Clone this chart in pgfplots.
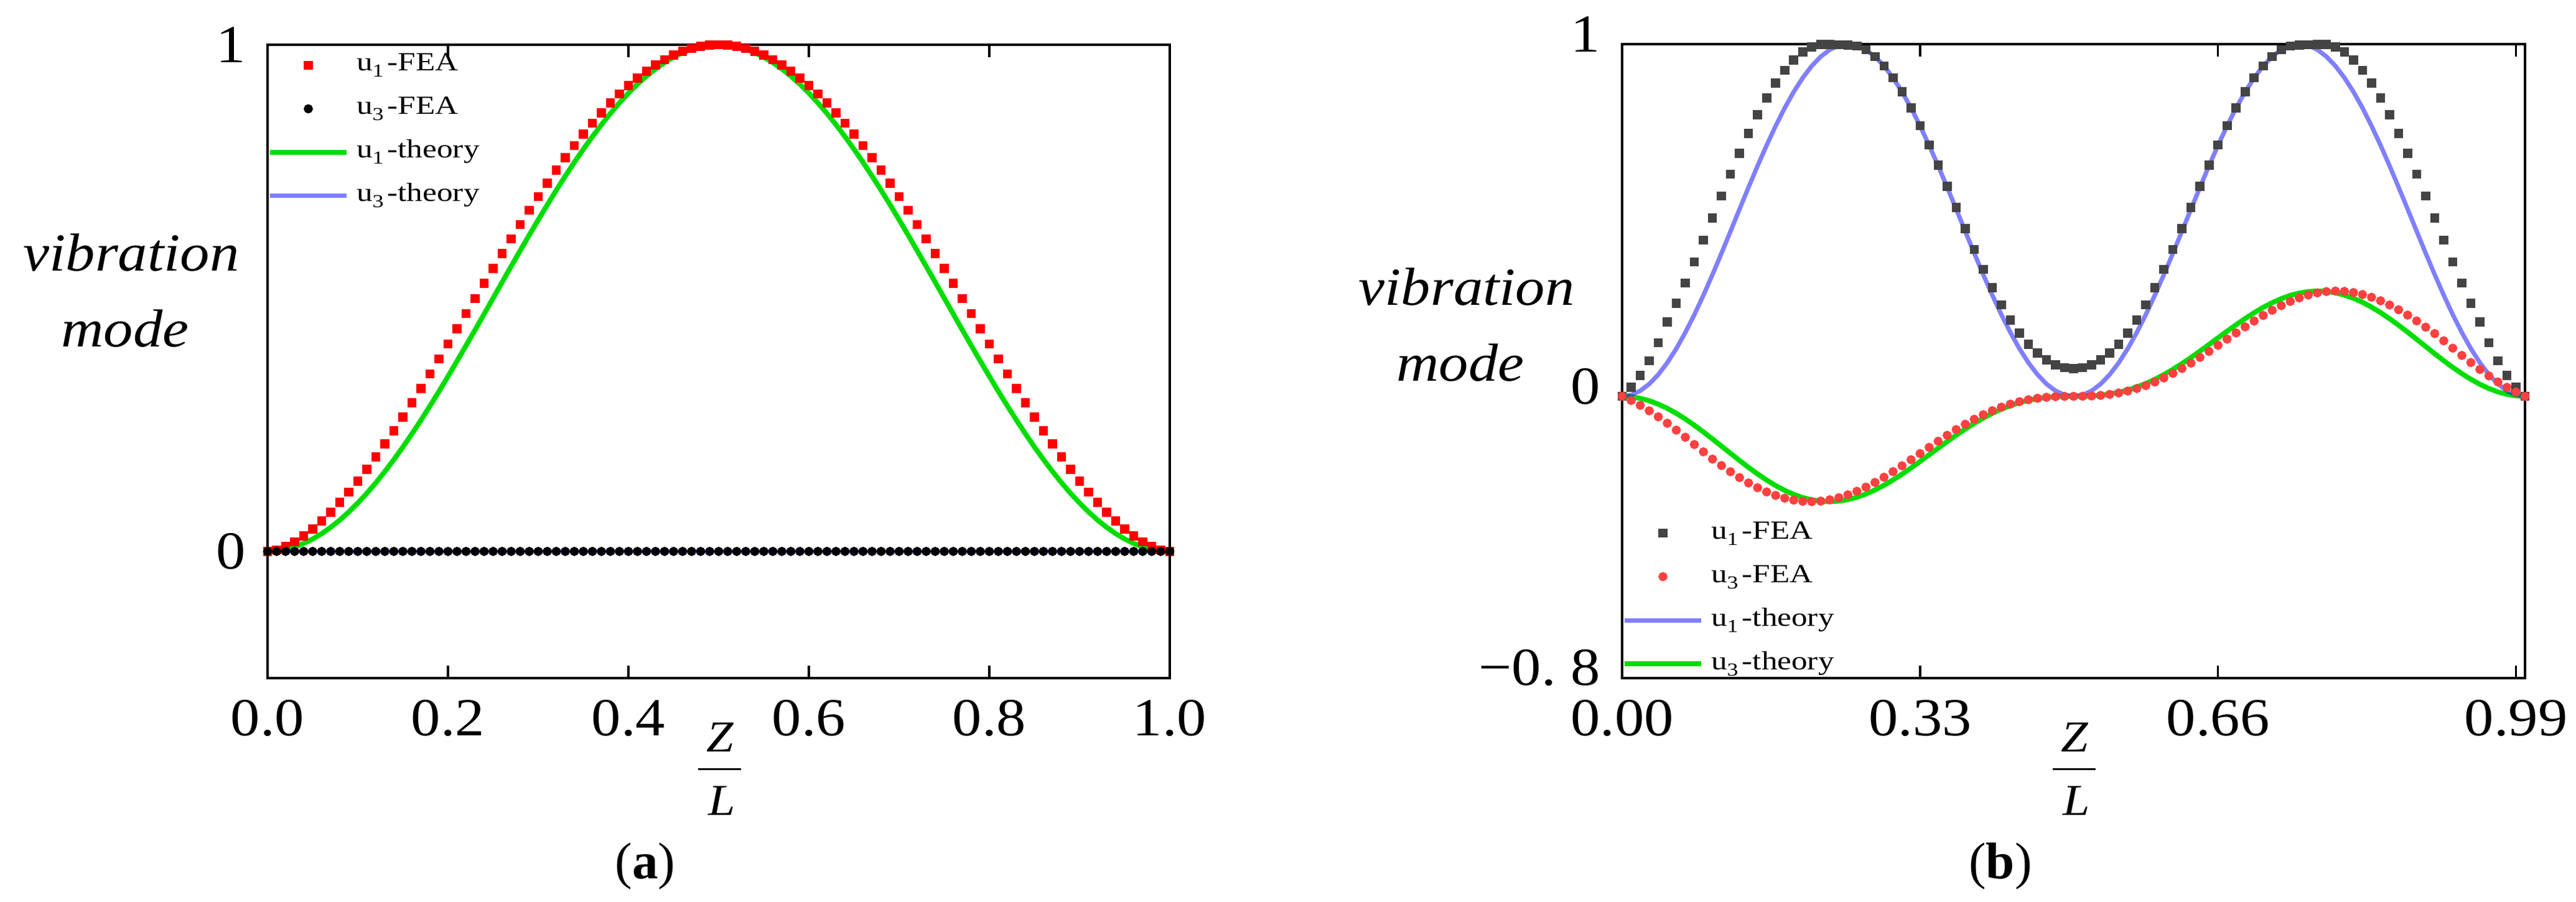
\documentclass[border=0pt]{standalone}
\usepackage{pgfplots}
\pgfplotsset{compat=1.18}
\usepackage{pgfplotstable}
\usepackage{graphicx}
\usepackage{fontspec}
\setmainfont{Liberation Serif}

\definecolor{redA}{RGB}{255,0,0}
\definecolor{greenT}{RGB}{0,221,0}
\definecolor{blueT}{RGB}{0,0,255}
\definecolor{grayF}{RGB}{68,68,68}
\definecolor{redF}{RGB}{255,64,64}

\newcommand{\sx}[1]{\scalebox{1.1}[1]{#1}}
\newcommand{\sleg}[1]{\scalebox{1.22}[1]{#1}}
\newcommand{\tf}{\fontsize{8.6}{10}\selectfont}
\newcommand{\lf}{\fontsize{4.2}{5}\selectfont}
\newcommand{\af}{\fontsize{8.6}{10}\selectfont\itshape}
\newcommand{\zf}{\fontsize{7.1}{8}\selectfont\itshape}
\newcommand{\cf}{\fontsize{8.3}{10}\selectfont}

\pgfplotsset{myimg/.style={legend image code/.code={\draw[mark repeat=2,mark phase=2,##1] plot coordinates {(0pt,0pt) (6.15pt,0pt) (12.3pt,0pt)};}}}

% left panel: x, u1-FEA, u3-FEA, u1-theory
\pgfplotstableread{
x f1 f3 t1
0.00 0.0000 0 0.0000
0.01 0.0030 0 0.0010
0.02 0.0096 0 0.0039
0.03 0.0189 0 0.0089
0.04 0.0305 0 0.0157
0.05 0.0443 0 0.0245
0.06 0.0600 0 0.0351
0.07 0.0775 0 0.0476
0.08 0.0966 0 0.0618
0.09 0.1171 0 0.0778
0.10 0.1390 0 0.0955
0.11 0.1623 0 0.1147
0.12 0.1866 0 0.1355
0.13 0.2120 0 0.1577
0.14 0.2383 0 0.1813
0.15 0.2654 0 0.2061
0.16 0.2932 0 0.2321
0.17 0.3216 0 0.2591
0.18 0.3506 0 0.2871
0.19 0.3799 0 0.3159
0.20 0.4095 0 0.3455
0.21 0.4394 0 0.3757
0.22 0.4693 0 0.4063
0.23 0.4992 0 0.4373
0.24 0.5290 0 0.4686
0.25 0.5586 0 0.5000
0.26 0.5880 0 0.5314
0.27 0.6169 0 0.5627
0.28 0.6453 0 0.5937
0.29 0.6733 0 0.6243
0.30 0.7004 0 0.6545
0.31 0.7269 0 0.6841
0.32 0.7526 0 0.7129
0.33 0.7773 0 0.7409
0.34 0.8011 0 0.7679
0.35 0.8237 0 0.7939
0.36 0.8454 0 0.8187
0.37 0.8657 0 0.8423
0.38 0.8849 0 0.8645
0.39 0.9028 0 0.8853
0.40 0.9192 0 0.9045
0.41 0.9342 0 0.9222
0.42 0.9478 0 0.9382
0.43 0.9599 0 0.9524
0.44 0.9704 0 0.9649
0.45 0.9794 0 0.9755
0.46 0.9868 0 0.9843
0.47 0.9925 0 0.9911
0.48 0.9967 0 0.9961
0.49 0.9992 0 0.9990
0.50 1.0000 0 1.0000
0.51 0.9992 0 0.9990
0.52 0.9967 0 0.9961
0.53 0.9925 0 0.9911
0.54 0.9868 0 0.9843
0.55 0.9794 0 0.9755
0.56 0.9704 0 0.9649
0.57 0.9599 0 0.9524
0.58 0.9478 0 0.9382
0.59 0.9342 0 0.9222
0.60 0.9192 0 0.9045
0.61 0.9028 0 0.8853
0.62 0.8849 0 0.8645
0.63 0.8657 0 0.8423
0.64 0.8454 0 0.8187
0.65 0.8237 0 0.7939
0.66 0.8011 0 0.7679
0.67 0.7773 0 0.7409
0.68 0.7526 0 0.7129
0.69 0.7269 0 0.6841
0.70 0.7004 0 0.6545
0.71 0.6733 0 0.6243
0.72 0.6453 0 0.5937
0.73 0.6169 0 0.5627
0.74 0.5880 0 0.5314
0.75 0.5586 0 0.5000
0.76 0.5290 0 0.4686
0.77 0.4992 0 0.4373
0.78 0.4693 0 0.4063
0.79 0.4394 0 0.3757
0.80 0.4095 0 0.3455
0.81 0.3799 0 0.3159
0.82 0.3506 0 0.2871
0.83 0.3216 0 0.2591
0.84 0.2932 0 0.2321
0.85 0.2654 0 0.2061
0.86 0.2383 0 0.1813
0.87 0.2120 0 0.1577
0.88 0.1866 0 0.1355
0.89 0.1623 0 0.1147
0.90 0.1390 0 0.0955
0.91 0.1171 0 0.0778
0.92 0.0966 0 0.0618
0.93 0.0775 0 0.0476
0.94 0.0600 0 0.0351
0.95 0.0443 0 0.0245
0.96 0.0305 0 0.0157
0.97 0.0189 0 0.0089
0.98 0.0096 0 0.0039
0.99 0.0030 0 0.0010
1.00 0.0000 0 0.0000
}\tabA

% right panel: x, u1-FEA, u3-FEA, u1-theory, u3-theory
\pgfplotstableread{
x f1 f3 t1 t3
0.00 0.0000 0.0000 0.0000 0.0000
0.01 0.0260 -0.0119 0.0039 -0.0014
0.02 0.0590 -0.0256 0.0157 -0.0057
0.03 0.1010 -0.0410 0.0351 -0.0126
0.04 0.1520 -0.0581 0.0618 -0.0222
0.05 0.2112 -0.0764 0.0955 -0.0342
0.06 0.2646 -0.0959 0.1355 -0.0484
0.07 0.3217 -0.1161 0.1813 -0.0645
0.08 0.3818 -0.1368 0.2321 -0.0822
0.09 0.4437 -0.1576 0.2871 -0.1012
0.10 0.5063 -0.1782 0.3455 -0.1210
0.11 0.5688 -0.1965 0.4063 -0.1414
0.12 0.6305 -0.2141 0.4686 -0.1619
0.13 0.6899 -0.2307 0.5314 -0.1822
0.14 0.7463 -0.2459 0.5937 -0.2019
0.15 0.7990 -0.2595 0.6545 -0.2205
0.16 0.8468 -0.2714 0.7129 -0.2378
0.17 0.8892 -0.2813 0.7679 -0.2534
0.18 0.9256 -0.2891 0.8187 -0.2670
0.19 0.9550 -0.2947 0.8645 -0.2785
0.20 0.9775 -0.2980 0.9045 -0.2875
0.21 0.9923 -0.2990 0.9382 -0.2940
0.22 0.9994 -0.2975 0.9649 -0.2979
0.23 0.9990 -0.2937 0.9843 -0.2991
0.24 0.9985 -0.2877 0.9961 -0.2974
0.25 0.9975 -0.2795 1.0000 -0.2932
0.26 0.9950 -0.2695 0.9961 -0.2865
0.27 0.9843 -0.2577 0.9843 -0.2772
0.28 0.9649 -0.2444 0.9649 -0.2659
0.29 0.9382 -0.2297 0.9382 -0.2525
0.30 0.9045 -0.2138 0.9045 -0.2374
0.31 0.8645 -0.1972 0.8645 -0.2209
0.32 0.8191 -0.1800 0.8187 -0.2033
0.33 0.7686 -0.1625 0.7679 -0.1849
0.34 0.7141 -0.1449 0.7129 -0.1660
0.35 0.6565 -0.1275 0.6545 -0.1471
0.36 0.5969 -0.1106 0.5937 -0.1284
0.37 0.5363 -0.0944 0.5314 -0.1102
0.38 0.4760 -0.0792 0.4686 -0.0929
0.39 0.4171 -0.0651 0.4063 -0.0766
0.40 0.3608 -0.0522 0.3455 -0.0617
0.41 0.3080 -0.0407 0.2871 -0.0482
0.42 0.2597 -0.0307 0.2321 -0.0364
0.43 0.2166 -0.0222 0.1813 -0.0263
0.44 0.1792 -0.0152 0.1355 -0.0179
0.45 0.1479 -0.0096 0.0955 -0.0113
0.46 0.1225 -0.0055 0.0618 -0.0064
0.47 0.1032 -0.0027 0.0351 -0.0031
0.48 0.0897 -0.0010 0.0157 -0.0011
0.49 0.0816 -0.0002 0.0039 -0.0002
0.50 0.0790 0.0000 0.0000 0.0000
0.51 0.0816 0.0002 0.0039 0.0002
0.52 0.0897 0.0010 0.0157 0.0011
0.53 0.1032 0.0027 0.0351 0.0031
0.54 0.1225 0.0055 0.0618 0.0064
0.55 0.1479 0.0096 0.0955 0.0113
0.56 0.1792 0.0152 0.1355 0.0179
0.57 0.2166 0.0222 0.1813 0.0263
0.58 0.2597 0.0307 0.2321 0.0364
0.59 0.3080 0.0407 0.2871 0.0482
0.60 0.3608 0.0522 0.3455 0.0617
0.61 0.4171 0.0651 0.4063 0.0766
0.62 0.4760 0.0792 0.4686 0.0929
0.63 0.5363 0.0944 0.5314 0.1102
0.64 0.5969 0.1106 0.5937 0.1284
0.65 0.6565 0.1275 0.6545 0.1471
0.66 0.7141 0.1449 0.7129 0.1660
0.67 0.7686 0.1625 0.7679 0.1849
0.68 0.8191 0.1800 0.8187 0.2033
0.69 0.8645 0.1972 0.8645 0.2209
0.70 0.9045 0.2138 0.9045 0.2374
0.71 0.9382 0.2297 0.9382 0.2525
0.72 0.9649 0.2444 0.9649 0.2659
0.73 0.9843 0.2577 0.9843 0.2772
0.74 0.9950 0.2695 0.9961 0.2865
0.75 0.9975 0.2795 1.0000 0.2932
0.76 0.9985 0.2877 0.9961 0.2974
0.77 0.9990 0.2937 0.9843 0.2991
0.78 0.9994 0.2975 0.9649 0.2979
0.79 0.9923 0.2990 0.9382 0.2940
0.80 0.9775 0.2980 0.9045 0.2875
0.81 0.9550 0.2947 0.8645 0.2785
0.82 0.9256 0.2891 0.8187 0.2670
0.83 0.8892 0.2813 0.7679 0.2534
0.84 0.8468 0.2714 0.7129 0.2378
0.85 0.7990 0.2595 0.6545 0.2205
0.86 0.7463 0.2459 0.5937 0.2019
0.87 0.6899 0.2307 0.5314 0.1822
0.88 0.6305 0.2141 0.4686 0.1619
0.89 0.5688 0.1965 0.4063 0.1414
0.90 0.5063 0.1782 0.3455 0.1210
0.91 0.4437 0.1576 0.2871 0.1012
0.92 0.3818 0.1368 0.2321 0.0822
0.93 0.3217 0.1161 0.1813 0.0645
0.94 0.2646 0.0959 0.1355 0.0484
0.95 0.2112 0.0764 0.0955 0.0342
0.96 0.1520 0.0581 0.0618 0.0222
0.97 0.1010 0.0410 0.0351 0.0126
0.98 0.0590 0.0256 0.0157 0.0057
0.99 0.0260 0.0119 0.0039 0.0014
1.00 0.0000 0.0000 0.0000 0.0000
}\tabB

\pgfplotsset{
  panel/.style={
    anchor=south west, scale only axis,
    xmin=0, xmax=1,
    tick label style={font=\tf},
    major tick length=2pt,
    xtick style={line width=0.35pt, black},
    ytick style={draw=none},
    axis line style={line width=0.45pt},
    legend cell align=left,
    legend style={draw=none, fill=none, inner sep=0pt, outer sep=0pt, font=\lf,
      row sep=2.2pt,
      nodes={inner sep=0pt, text height=3.3pt, text depth=1.5pt},
      /tikz/every odd column/.append style={column sep=1.2pt}},
  }
}

\begin{document}
\begin{tikzpicture}
\path[use as bounding box] (0,0) rectangle (414pt,144.9pt);

% ---------- (a) ----------
\begin{axis}[panel,
  at={(43pt,35.9pt)}, width=145pt, height=101.8pt,
  ymin=-0.25, ymax=1,
  xtick={0,0.2,0.4,0.6,0.8,1},
  xticklabels={\sx{0.0},\sx{0.2},\sx{0.4},\sx{0.6},\sx{0.8},\sx{1.0}},
  ytick={0,1}, yticklabels={\sx{0},\sx{1}},
  legend style={at={(0,1)}, anchor=north west, yshift=-0.9pt},
]
\addplot[forget plot, only marks, mark=square*, mark size=0.53pt, color=redA] table[x=x,y=f1]{\tabA};
\addplot[forget plot, color=greenT, line width=0.8pt] table[x=x,y=t1]{\tabA};
\addplot[forget plot, only marks, mark=*, mark size=0.53pt, color=black] table[x=x,y=f3]{\tabA};
\addplot[forget plot, color=blueT, opacity=0.5, line width=0.7pt] table[x=x,y=f3]{\tabA};
\addlegendimage{only marks, mark=square*, mark size=0.53pt, color=redA, myimg}
\addlegendentry{\sleg{u\textsubscript{1}-FEA}}
\addlegendimage{only marks, mark=*, mark size=0.53pt, color=black, myimg}
\addlegendentry{\sleg{u\textsubscript{3}-FEA}}
\addlegendimage{color=greenT, line width=0.8pt, myimg}
\addlegendentry{\sleg{u\textsubscript{1}-theory}}
\addlegendimage{color=blueT, opacity=0.5, line width=0.7pt, myimg}
\addlegendentry{\sleg{u\textsubscript{3}-theory}}
\end{axis}

% ---------- (b) ----------
\begin{axis}[panel,
  at={(260.7pt,35.9pt)}, width=145.1pt, height=101.9pt,
  ymin=-0.8, ymax=1,
  xtick={0,0.33,0.66,0.99},
  xticklabels={\sx{0.00},\sx{0.33},\sx{0.66},\sx{0.99}},
  ytick={-0.8,0,1}, yticklabels={\sx{−0.\ 8},\sx{0},\sx{1}},
  yticklabel style={yshift=1.6pt},
  legend style={at={(0,0)}, anchor=south west, yshift=-0.1pt},
]
\addplot[forget plot, only marks, mark=square*, mark size=0.53pt, color=grayF] table[x=x,y=f1]{\tabB};
\addplot[forget plot, only marks, mark=*, mark size=0.53pt, color=redF] table[x=x,y=f3]{\tabB};
\addplot[forget plot, color=greenT, line width=0.8pt] table[x=x,y=t3]{\tabB};
\addplot[forget plot, color=blueT, opacity=0.5, line width=0.7pt] table[x=x,y=t1]{\tabB};
\addlegendimage{only marks, mark=square*, mark size=0.53pt, color=grayF, myimg}
\addlegendentry{\sleg{u\textsubscript{1}-FEA}}
\addlegendimage{only marks, mark=*, mark size=0.53pt, color=redF, myimg}
\addlegendentry{\sleg{u\textsubscript{3}-FEA}}
\addlegendimage{color=blueT, opacity=0.5, line width=0.7pt, myimg}
\addlegendentry{\sleg{u\textsubscript{1}-theory}}
\addlegendimage{color=greenT, line width=0.8pt, myimg}
\addlegendentry{\sleg{u\textsubscript{3}-theory}}
\end{axis}

% axis titles
\node[font=\af, anchor=base] at (21.1pt,101.4pt) {\sx{vibration}};
\node[font=\af, anchor=base] at (20.1pt,89.2pt) {\sx{mode}};
\node[font=\af, anchor=base] at (235.7pt,95.9pt) {\sx{vibration}};
\node[font=\af, anchor=base] at (234.7pt,83.7pt) {\sx{mode}};

% Z / L
\node[font=\zf, anchor=base] at (115.7pt,24.1pt) {\sx{Z}};
\draw[line width=0.3pt] (112.2pt,21.3pt) -- (119.1pt,21.3pt);
\node[font=\zf, anchor=base] at (116.0pt,13.9pt) {\sx{L}};
\node[font=\zf, anchor=base] at (333.4pt,24.1pt) {\sx{Z}};
\draw[line width=0.3pt] (329.9pt,21.3pt) -- (336.8pt,21.3pt);
\node[font=\zf, anchor=base] at (333.7pt,13.9pt) {\sx{L}};

% captions
\node[font=\cf, anchor=base] at (103.7pt,3.7pt) {(\textbf{a})};
\node[font=\cf, anchor=base] at (321.5pt,3.7pt) {(\textbf{b})};
\end{tikzpicture}
\end{document}
